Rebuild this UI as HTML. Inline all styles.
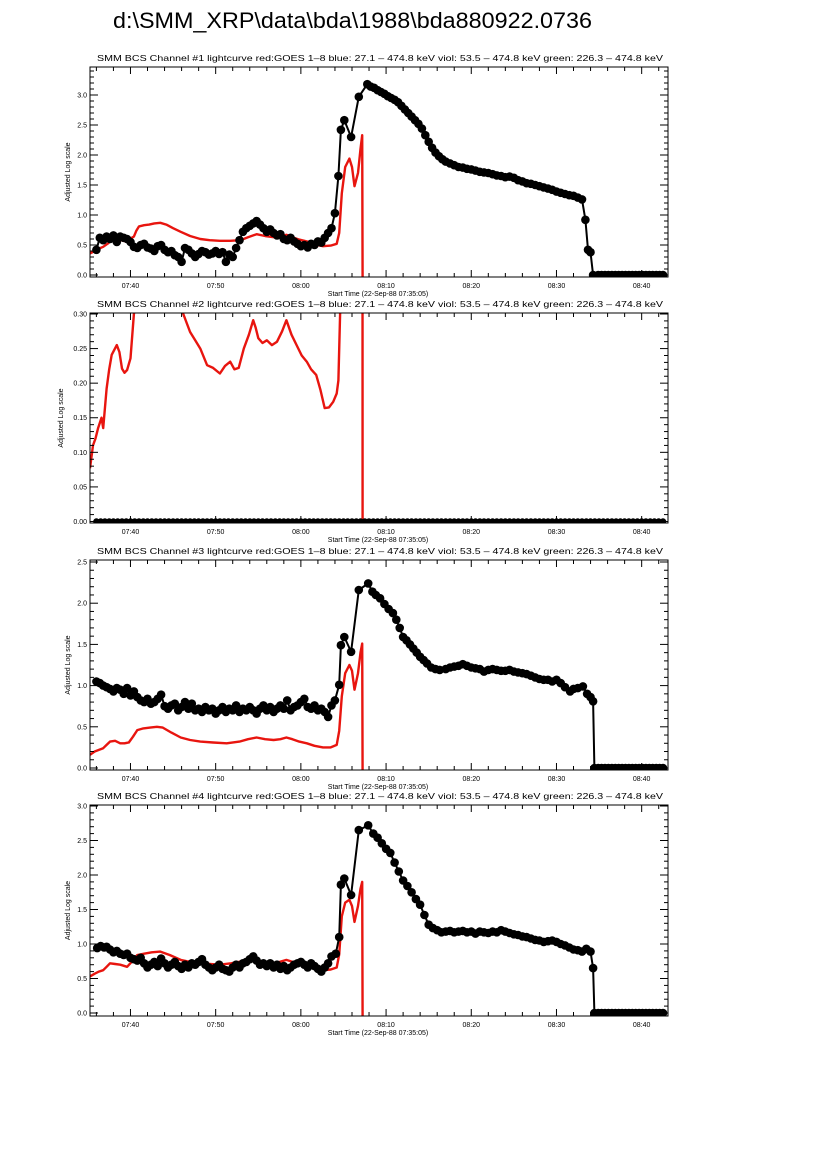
<!DOCTYPE html>
<html><head><meta charset="utf-8"><title>bda880922.0736</title>
<style>
html,body{margin:0;padding:0;background:#fff;}
svg{display:block;font-family:"Liberation Sans",sans-serif;}
</style></head>
<body>
<svg id="chart" width="826" height="1169" viewBox="0 0 826 1169" xmlns="http://www.w3.org/2000/svg">
<rect x="0" y="0" width="826" height="1169" fill="#fff"/>
<text x="113" y="28" font-size="22" textLength="479" lengthAdjust="spacingAndGlyphs" fill="#000">d:\SMM_XRP\data\bda\1988\bda880922.0736</text>
</svg>
<script>
// ---- shared axis data ----
const xTickMinutes = [40, 50, 60, 70, 80, 90, 100];
const xTickLabels = ["07:40", "07:50", "08:00", "08:10", "08:20", "08:30", "08:40"];
const zeroTailT = [94.9,95.3,95.7,96.1,96.5,96.9,97.3,97.7,98.1,98.5,98.9,99.3,99.7,100.1,100.5,100.9,101.3,101.7,102.1,102.5];

// ---- panel 1 ----
const p1YTicks = [0, 0.5, 1.0, 1.5, 2.0, 2.5, 3.0];
const p1YLabels = ["0.0","0.5","1.0","1.5","2.0","2.5","3.0"];
const p1BlackT = [36.0,36.4,36.8,37.2,37.6,38.0,38.4,38.8,39.2,39.6,40.0,40.4,40.8,41.2,41.6,42.0,42.4,42.8,43.2,43.6,44.0,44.4,44.8,45.2,45.6,46.0,46.4,46.8,47.2,47.6,48.0,48.4,48.8,49.2,49.6,50.0,50.4,50.8,51.2,51.6,52.0,52.4,52.8,53.2,53.6,54.0,54.4,54.8,55.2,55.6,56.0,56.4,56.8,57.2,57.6,58.0,58.4,58.8,59.2,59.6,60.0,60.4,60.8,61.2,61.6,62.0,62.4,62.8,63.2,63.6,64.0,64.4,64.7,65.1,65.9,66.8,67.8,68.2,68.6,69.0,69.4,69.8,70.2,70.6,71.0,71.4,71.8,72.2,72.6,73.0,73.4,73.8,74.2,74.6,75.0,75.4,75.8,76.2,76.6,77.0,77.5,78.0,78.5,79.0,79.5,80.0,80.5,81.0,81.5,82.0,82.5,83.0,83.5,84.0,84.5,85.0,85.5,86.0,86.5,87.0,87.5,88.0,88.5,89.0,89.5,90.0,90.5,91.0,91.5,92.0,92.5,93.0,93.4,93.7,94.0,94.3];
const p1BlackV = [0.42,0.62,0.58,0.64,0.60,0.66,0.55,0.64,0.62,0.60,0.55,0.47,0.45,0.50,0.52,0.46,0.44,0.40,0.48,0.50,0.42,0.38,0.40,0.33,0.30,0.22,0.45,0.42,0.36,0.30,0.35,0.40,0.38,0.34,0.36,0.40,0.35,0.38,0.22,0.34,0.30,0.45,0.58,0.72,0.78,0.82,0.86,0.90,0.84,0.78,0.72,0.76,0.70,0.66,0.68,0.60,0.58,0.62,0.56,0.52,0.48,0.50,0.46,0.52,0.50,0.56,0.54,0.62,0.70,0.78,1.03,1.65,2.42,2.58,2.30,2.97,3.18,3.14,3.12,3.08,3.05,3.02,2.98,2.95,2.92,2.88,2.82,2.76,2.70,2.64,2.58,2.52,2.44,2.33,2.22,2.12,2.04,1.98,1.93,1.89,1.86,1.83,1.80,1.79,1.77,1.76,1.74,1.72,1.71,1.70,1.68,1.66,1.65,1.63,1.64,1.62,1.58,1.56,1.53,1.52,1.50,1.48,1.46,1.44,1.42,1.39,1.37,1.35,1.33,1.32,1.29,1.26,0.92,0.42,0.38,0.0];
const p1RedT = [35.25,35.8,36.3,36.8,37.3,37.8,38.4,38.9,39.4,39.9,40.4,40.7,41.0,41.6,42.2,42.8,43.5,44.2,45.0,45.9,47.0,48.2,49.3,50.5,51.7,52.9,53.8,54.8,55.8,56.8,57.6,58.3,59.0,59.8,60.7,61.6,62.6,63.5,64.2,64.5,64.8,65.2,65.7,66.0,66.3,66.7,67.0,67.2,67.25];
const p1RedV = [0.36,0.40,0.44,0.47,0.52,0.58,0.61,0.58,0.56,0.60,0.64,0.74,0.81,0.83,0.84,0.86,0.87,0.84,0.78,0.72,0.65,0.60,0.58,0.57,0.57,0.58,0.63,0.68,0.65,0.63,0.64,0.67,0.63,0.59,0.56,0.51,0.48,0.49,0.52,0.70,1.36,1.80,1.94,1.80,1.48,1.70,2.10,2.33,-0.1];

// ---- panel 2 ----
const p2YTicks = [0, 0.05, 0.10, 0.15, 0.20, 0.25, 0.30];
const p2YLabels = ["0.00","0.05","0.10","0.15","0.20","0.25","0.30"];
const p2BlackStart = 36.0;
const p2BlackStep = 0.5;
const p2BlackV = [0,0,0,0,0,0,0,0,0,0,0,0,0,0,0,0,0,0,0,0,0,0,0,0,0,0,0,0,0,0,0,0,0,0,0,0,0,0,0,0,0,0,0,0,0,0,0,0,0,0,0,0,0,0,0,0,0,0,0,0,0,0,0,0,0,0,0,0,0,0,0,0,0,0,0,0,0,0,0,0,0,0,0,0,0,0,0,0,0,0,0,0,0,0,0,0,0,0,0,0,0,0,0,0,0,0,0,0,0,0,0,0,0,0,0,0,0,0,0,0,0,0,0,0,0,0,0,0,0,0,0,0,0,0];
const p2RedT = [35.25,35.6,35.9,36.2,36.6,36.8,37.2,37.5,37.8,38.4,38.7,39.0,39.3,39.6,40.0,40.4,41.0,43.0,45.0,46.2,47.0,47.6,48.2,49.0,49.7,50.5,51.1,51.7,52.2,52.7,53.3,53.9,54.4,54.7,55.0,55.5,56.0,56.6,57.2,57.8,58.3,58.9,59.5,60.1,60.7,61.2,61.8,62.3,62.8,63.3,63.8,64.2,64.4,64.6,65.0,67.2,67.25];
const p2RedV = [0.077,0.11,0.12,0.135,0.15,0.135,0.192,0.22,0.241,0.255,0.245,0.221,0.215,0.219,0.236,0.30,0.34,0.36,0.34,0.30,0.274,0.262,0.25,0.226,0.222,0.214,0.225,0.231,0.22,0.222,0.25,0.27,0.291,0.28,0.265,0.258,0.262,0.255,0.26,0.275,0.291,0.27,0.255,0.24,0.231,0.22,0.212,0.19,0.164,0.165,0.173,0.185,0.204,0.30,1.0,2.0,-0.05];

// ---- panel 3 ----
const p3YTicks = [0, 0.5, 1.0, 1.5, 2.0, 2.5];
const p3YLabels = ["0.0","0.5","1.0","1.5","2.0","2.5"];
const p3BlackT = [36.0,36.4,36.8,37.2,37.6,38.0,38.4,38.8,39.2,39.6,40.0,40.4,40.8,41.2,41.6,42.0,42.4,42.8,43.2,43.6,44.0,44.4,44.8,45.2,45.6,46.0,46.4,46.8,47.2,47.6,48.0,48.4,48.8,49.2,49.6,50.0,50.4,50.8,51.2,51.6,52.0,52.4,52.8,53.2,53.6,54.0,54.4,54.8,55.2,55.6,56.0,56.4,56.8,57.2,57.6,58.0,58.4,58.8,59.2,59.6,60.0,60.4,60.8,61.2,61.6,62.0,62.4,62.8,63.2,63.6,64.0,64.5,64.7,65.1,65.9,66.8,67.9,68.4,68.8,69.3,69.8,70.3,70.8,71.2,71.6,72.0,72.4,72.8,73.2,73.6,74.0,74.4,74.8,75.3,75.8,76.3,77.0,77.5,78.0,78.5,79.0,79.5,80.0,80.5,81.0,81.5,82.0,82.5,83.0,83.5,84.0,84.5,85.0,85.5,86.0,86.5,87.0,87.5,88.0,88.5,89.0,89.5,90.0,90.5,91.0,91.6,92.0,92.5,93.1,93.6,94.0,94.3,94.45];
const p3BlackV = [1.05,1.03,1.00,0.98,0.96,0.93,0.97,0.95,0.90,0.97,0.88,0.93,0.86,0.82,0.80,0.84,0.78,0.80,0.84,0.89,0.75,0.72,0.76,0.78,0.70,0.74,0.80,0.72,0.78,0.70,0.72,0.68,0.74,0.70,0.72,0.66,0.70,0.74,0.68,0.72,0.70,0.76,0.68,0.72,0.70,0.74,0.70,0.66,0.72,0.76,0.70,0.74,0.68,0.72,0.76,0.72,0.82,0.70,0.74,0.76,0.80,0.84,0.74,0.72,0.76,0.70,0.72,0.68,0.62,0.76,0.82,1.01,1.49,1.59,1.41,2.16,2.24,2.14,2.10,2.06,1.99,1.93,1.88,1.80,1.70,1.59,1.55,1.50,1.45,1.40,1.35,1.31,1.27,1.22,1.20,1.19,1.20,1.22,1.23,1.24,1.26,1.24,1.22,1.21,1.20,1.17,1.19,1.20,1.19,1.18,1.18,1.19,1.17,1.16,1.15,1.14,1.12,1.10,1.08,1.07,1.07,1.05,1.07,1.03,0.98,0.93,0.96,0.97,0.99,0.90,0.86,0.81,0.0];
const p3RedT = [35.25,35.8,36.3,36.8,37.2,37.6,38.2,38.8,39.3,39.8,40.3,40.8,41.5,42.3,43.1,43.8,44.8,45.9,47.0,48.2,49.7,51.3,52.8,53.8,54.8,55.8,56.8,57.6,58.3,59.0,59.8,60.7,61.6,62.6,63.5,64.2,64.5,64.8,65.2,65.7,66.0,66.3,66.7,67.0,67.2,67.25];
const p3RedV = [0.16,0.20,0.22,0.24,0.28,0.32,0.33,0.30,0.30,0.31,0.38,0.46,0.48,0.49,0.50,0.49,0.43,0.37,0.34,0.32,0.31,0.30,0.32,0.35,0.37,0.35,0.34,0.35,0.37,0.35,0.32,0.30,0.27,0.25,0.25,0.28,0.45,0.87,1.15,1.25,1.18,0.95,1.15,1.40,1.51,-0.1];

// ---- panel 4 ----
const p4YTicks = [0, 0.5, 1.0, 1.5, 2.0, 2.5, 3.0];
const p4YLabels = ["0.0","0.5","1.0","1.5","2.0","2.5","3.0"];
const p4BlackT = [36.1,36.5,36.9,37.2,37.6,38.0,38.4,38.8,39.2,39.6,40.0,40.4,40.8,41.2,41.6,42.0,42.4,42.8,43.2,43.6,44.0,44.4,44.8,45.2,45.6,46.0,46.4,46.8,47.2,47.6,48.0,48.4,48.8,49.2,49.6,50.0,50.4,50.8,51.2,51.6,52.0,52.4,52.8,53.2,53.6,54.0,54.4,54.8,55.2,55.6,56.0,56.4,56.8,57.2,57.6,58.0,58.4,58.8,59.2,59.6,60.0,60.4,60.8,61.2,61.6,62.0,62.4,62.8,63.2,63.6,64.1,64.5,64.7,65.1,65.9,66.8,67.9,68.5,69.0,69.5,70.0,70.5,71.0,71.5,72.0,72.5,73.0,73.5,74.0,74.5,75.0,75.5,76.0,76.5,77.0,77.5,78.0,78.5,79.0,79.5,80.0,80.5,81.0,81.5,82.0,82.5,83.0,83.5,84.0,84.5,85.0,85.5,86.0,86.5,87.0,87.5,88.0,88.5,89.0,89.5,90.0,90.5,91.0,91.5,92.0,92.5,93.0,93.5,94.0,94.3,94.45];
const p4BlackV = [0.94,0.97,0.95,0.96,0.92,0.88,0.90,0.86,0.84,0.86,0.80,0.78,0.76,0.80,0.72,0.66,0.70,0.74,0.68,0.79,0.72,0.66,0.70,0.74,0.68,0.64,0.70,0.66,0.72,0.70,0.74,0.78,0.70,0.66,0.62,0.66,0.70,0.64,0.62,0.60,0.66,0.70,0.66,0.72,0.74,0.78,0.82,0.76,0.70,0.72,0.68,0.72,0.66,0.70,0.64,0.68,0.62,0.66,0.70,0.72,0.74,0.70,0.66,0.72,0.68,0.64,0.60,0.66,0.72,0.82,0.86,1.10,1.86,1.95,1.71,2.65,2.72,2.60,2.54,2.46,2.38,2.32,2.18,2.05,1.92,1.84,1.75,1.65,1.57,1.42,1.28,1.23,1.20,1.17,1.18,1.19,1.17,1.18,1.19,1.17,1.18,1.15,1.18,1.17,1.16,1.18,1.17,1.20,1.18,1.16,1.14,1.13,1.11,1.10,1.08,1.06,1.05,1.03,1.04,1.05,1.03,1.00,0.98,0.95,0.92,0.91,0.89,0.93,0.89,0.65,0.0];
const p4RedT = [35.25,35.8,36.3,36.8,37.2,37.6,38.2,38.8,39.6,40.2,40.8,41.6,42.5,43.5,44.6,45.9,47.0,48.2,49.3,50.5,51.8,53.6,54.8,55.8,56.7,57.5,58.3,59.3,60.7,61.6,62.6,63.5,64.2,64.5,64.8,65.2,65.7,66.0,66.3,66.7,67.0,67.2,67.25];
const p4RedV = [0.53,0.57,0.60,0.62,0.67,0.72,0.71,0.70,0.67,0.75,0.84,0.86,0.88,0.89,0.84,0.77,0.74,0.72,0.71,0.70,0.72,0.76,0.75,0.74,0.72,0.74,0.77,0.73,0.70,0.66,0.62,0.63,0.66,0.85,1.40,1.60,1.64,1.55,1.32,1.55,1.80,1.90,-0.1];

// ---- drawing ----
const NS = "http://www.w3.org/2000/svg";
const svg = document.getElementById('chart');
const X0 = 90, X1 = 668, T0 = 35.25, PXMIN = 8.52;
function xScale(t){ return X0 + (t - T0) * PXMIN; }
function mk(tag, attrs, parent){
  const e = document.createElementNS(NS, tag);
  for (const k in attrs) e.setAttribute(k, attrs[k]);
  (parent || svg).appendChild(e);
  return e;
}
function ln(g, x1, y1, x2, y2){
  const l = mk('line', {x1:x1, y1:y1, x2:x2, y2:y2, stroke:'#000', 'stroke-width':1}, g);
  
  
  return l;
}
function txt(g, x, y, s, size, anchor){
  const t = mk('text', {x:x, y:y, 'font-size':size, 'text-anchor':anchor || 'middle', fill:'#000'}, g);
  t.textContent = s;
  return t;
}

function drawPanel(idx, top, bottom, yZeroPx, yPxPerUnit, yTicks, yLabels, minorStep, blackT, blackV, redT, redV, dotR){
  const g = mk('g', {});
  
  
  const yScale = v => yZeroPx - v * yPxPerUnit;
  const yMaxV = (yZeroPx - top) / yPxPerUnit;

  const clipId = 'clip' + idx;
  const cp = mk('clipPath', {id: clipId}, g);
  mk('rect', {x:X0, y:top, width:X1 - X0, height:bottom - top}, cp);

  const tt = txt(g, 97, top - 6, 'SMM BCS Channel #' + idx + ' lightcurve  red:GOES 1\u20138  blue: 27.1 \u2013 474.8 keV  viol: 53.5 \u2013 474.8 keV  green: 226.3 \u2013 474.8 keV', 8.5, 'start');
  tt.setAttribute('textLength', '566');
  tt.setAttribute('lengthAdjust', 'spacingAndGlyphs');
  tt.setAttribute('xml:space', 'preserve');
  
  

  const redPts = redT.map((t, i) => xScale(t).toFixed(1) + ',' + yScale(redV[i]).toFixed(1)).join(' ');
  const red = mk('polyline', {points: redPts, fill:'none', stroke:'#e8150f', 'stroke-width':2.4, 'stroke-linejoin':'round', 'clip-path':'url(#' + clipId + ')'}, g);
  
  

  const bg = mk('g', {'clip-path':'url(#' + clipId + ')'}, g);
  
  
  const blackPts = blackT.map((t, i) => xScale(t).toFixed(1) + ',' + yScale(blackV[i]).toFixed(1)).join(' ');
  const bl = mk('polyline', {points: blackPts, fill:'none', stroke:'#000', 'stroke-width':2}, bg);
  
  
  blackT.forEach((t, i) => {
    const c = mk('circle', {cx: xScale(t).toFixed(1), cy: yScale(blackV[i]).toFixed(1), r: dotR, fill:'#000'}, bg);
    
    
  });

  const fr = mk('rect', {x:X0, y:top, width:X1 - X0, height:bottom - top, fill:'none', stroke:'#000', 'stroke-width':1}, g);
  
  

  for (let m = 36; m <= 102; m += 2){
    const x = xScale(m);
    const major = (m % 10 === 0);
    const len = major ? 7 : 4;
    ln(g, x, bottom, x, bottom - len);
    ln(g, x, top, x, top + len);
  }
  xTickMinutes.forEach((m, i) => {
    const t = txt(g, xScale(m), bottom + 11, xTickLabels[i], 7);
    
    
  });
  const st = txt(g, 378, bottom + 19, 'Start Time (22-Sep-88 07:35:05)', 7);
  
  

  const nMinor = Math.round(yMaxV / minorStep);
  for (let k = 0; k <= nMinor; k++){
    const v = k * minorStep;
    if (v > yMaxV + 1e-9) break;
    const y = yScale(v);
    const major = (k % 5 === 0);
    const len = major ? 8 : 4;
    ln(g, X0, y, X0 + len, y);
    ln(g, X1, y, X1 - len, y);
  }
  yTicks.forEach((v, i) => {
    const t = txt(g, X0 - 3, yScale(v) + 2.5, yLabels[i], 7, 'end');
    
    
  });
  const yc = (top + bottom) / 2;
  const yt = txt(g, 0, 0, 'Adjusted Log scale', 7);
  yt.setAttribute('transform', 'translate(' + (idx === 2 ? 63 : 70) + ',' + yc + ') rotate(-90)');
  
  
}

const p1T = p1BlackT.concat(zeroTailT), p1V = p1BlackV.concat(zeroTailT.map(() => 0));
const p3T = p3BlackT.concat(zeroTailT), p3V = p3BlackV.concat(zeroTailT.map(() => 0));
const p4T = p4BlackT.concat(zeroTailT), p4V = p4BlackV.concat(zeroTailT.map(() => 0));
const p2T = p2BlackV.map((v, i) => p2BlackStart + i * p2BlackStep);

drawPanel(1, 67, 277, 275, 60, p1YTicks, p1YLabels, 0.1, p1T, p1V, p1RedT, p1RedV, 4.3);
drawPanel(2, 313, 523, 521.5, 691.7, p2YTicks, p2YLabels, 0.01, p2T, p2BlackV, p2RedT, p2RedV, 3.2);
drawPanel(3, 560, 770, 768, 82.4, p3YTicks, p3YLabels, 0.1, p3T, p3V, p3RedT, p3RedV, 4.3);
drawPanel(4, 805, 1016, 1013, 69, p4YTicks, p4YLabels, 0.1, p4T, p4V, p4RedT, p4RedV, 4.3);
</script>
</body></html>
